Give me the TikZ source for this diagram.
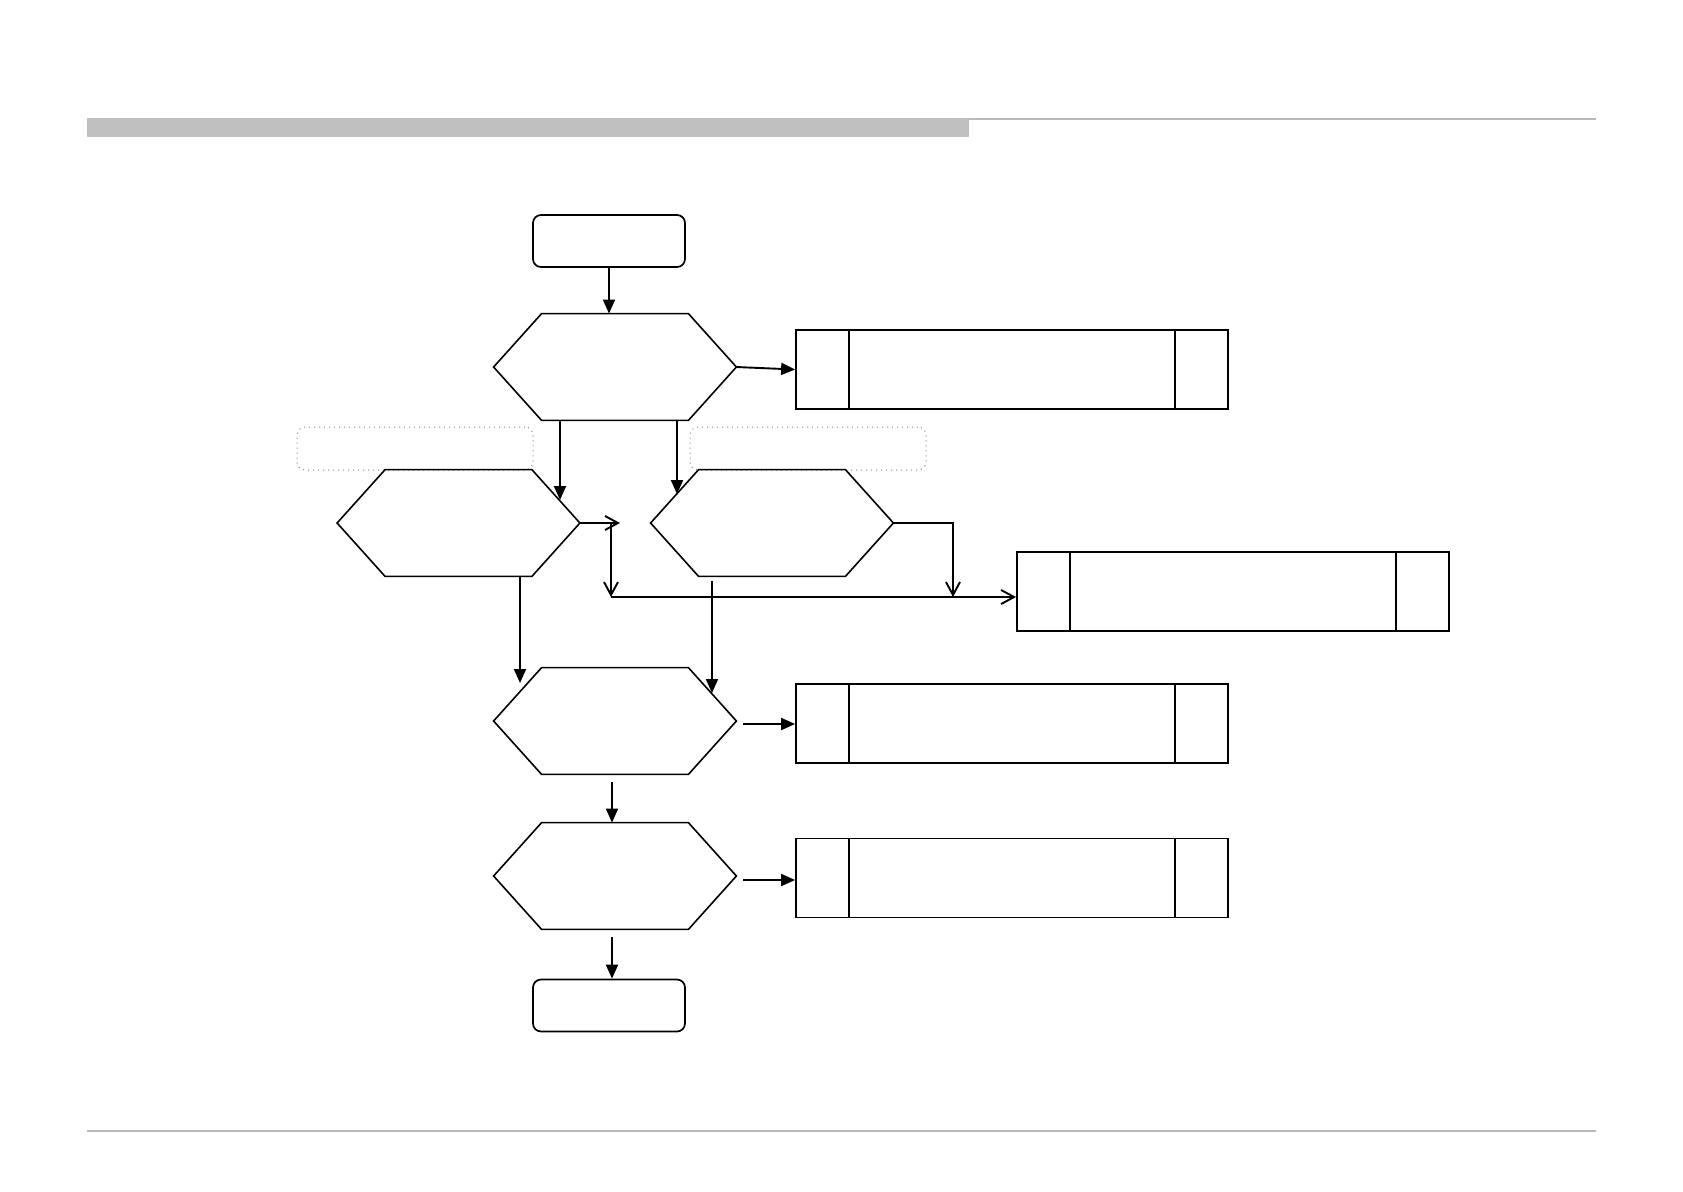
\documentclass[tikz,border=0pt]{standalone}
\usetikzlibrary{arrows.meta,calc}
\definecolor{barg}{RGB}{192,192,192}
\definecolor{lineg}{RGB}{185,185,185}
\definecolor{dotg}{RGB}{130,130,130}
\newcommand\drawhex[1]{%
  \draw[hexline] (#1.west) -- ($(#1.north west)+(48,0)$) -- ($(#1.north east)+(-48,0)$) -- (#1.east)
    -- ($(#1.south east)+(-48,0)$) -- ($(#1.south west)+(48,0)$) -- cycle;}
\newcommand\drawact[1]{%
  \draw[boxline] ($(#1.north west)+(54,0)$) -- ($(#1.south west)+(54,0)$);
  \draw[boxline] ($(#1.north east)+(-54,0)$) -- ($(#1.south east)+(-54,0)$);}
\tikzset{
  term/.style={draw, line width=0.85pt, rounded corners=4pt, inner sep=0pt, minimum width=76pt, minimum height=26pt},
  hexslot/.style={inner sep=0pt, minimum width=121pt, minimum height=53pt},
  hexline/.style={line width=0.8pt, line join=miter},
  actbox/.style={draw, line width=0.9pt, inner sep=0pt, minimum width=216pt, minimum height=39.5pt},
  boxline/.style={line width=1pt},
  dotbox/.style={draw=dotg, dotted, line width=0.5pt, rounded corners=4pt, inner sep=0pt, minimum width=118pt, minimum height=21.5pt},
  arr/.style={line width=0.95pt, -{Triangle[length=7pt,width=6pt]}},
  oarr/.style={line width=0.95pt, -{Straight Barb[length=6.5pt,width=7pt]}},
}
\begin{document}
\begin{tikzpicture}[x=0.5pt,y=-0.5pt]
\useasboundingbox (0,0) rectangle (1683,1191);
% header and footer
\fill[barg] (87,118) rectangle (969,137);
\draw[lineg, line width=1pt] (969,119) -- (1596,119);
\draw[lineg, line width=0.8pt] (87,1131) -- (1596,1131);
% nodes
\node[term] (s) at (609,241) {};
\node[hexslot] (h1) at (615,367) {};
\node[actbox] (box1) at (1012,369.5) {};
\node[dotbox] (d1) at (415,448.5) {};
\node[dotbox] (d2) at (808,448.5) {};
\node[hexslot] (h2) at (458.5,523) {};
\node[hexslot] (h3) at (772,523) {};
\node[actbox] (box2) at (1233,591.5) {};
\node[hexslot] (h4) at (615,721) {};
\node[actbox] (box3) at (1012,723.5) {};
\node[hexslot] (h5) at (615,876) {};
\node[actbox] (box4) at (1012,878) {};
\node[term] (e) at (609,1005.5) {};
\drawhex{h1}\drawhex{h2}\drawhex{h3}\drawhex{h4}\drawhex{h5}
\drawact{box1}\drawact{box2}\drawact{box3}\drawact{box4}
% coordinates
\coordinate (a1) at (560,500);
\coordinate (a2) at (677,494);
\coordinate (j1) at (620,523);
\coordinate (j2) at (611,523);
\coordinate (j3) at (611,597);
\coordinate (j4) at (953,597);
\coordinate (a3) at (520,683);
\coordinate (b4) at (712,581);
\coordinate (a4) at (712,693);
\coordinate (c3) at (743,724);
\coordinate (c4) at (612,782);
\coordinate (c5) at (743,880);
\coordinate (c6) at (612,937);
% connectors
\draw[arr] (s.south) -- (s.south |- h1.north);
\draw[arr] (h1.east) -- (box1.west);
\draw[arr] (h1.south -| a1) -- (a1);
\draw[arr] (h1.south -| a2) -- (a2);
\draw[oarr] (h2.east) -- (j1);
\draw[oarr] (j2) -- (j3);
\draw[oarr] (j3) -- (j3 -| box2.west);
\draw[oarr] (h3.east) -| (j4);
\draw[arr] (h2.south -| a3) -- (a3);
\draw[arr] (b4) -- (a4);
\draw[arr] (c3) -- (c3 -| box3.west);
\draw[arr] (c4) -- (c4 |- h5.north);
\draw[arr] (c5) -- (c5 -| box4.west);
\draw[arr] (c6) -- (c6 |- e.north);
\end{tikzpicture}
\end{document}
